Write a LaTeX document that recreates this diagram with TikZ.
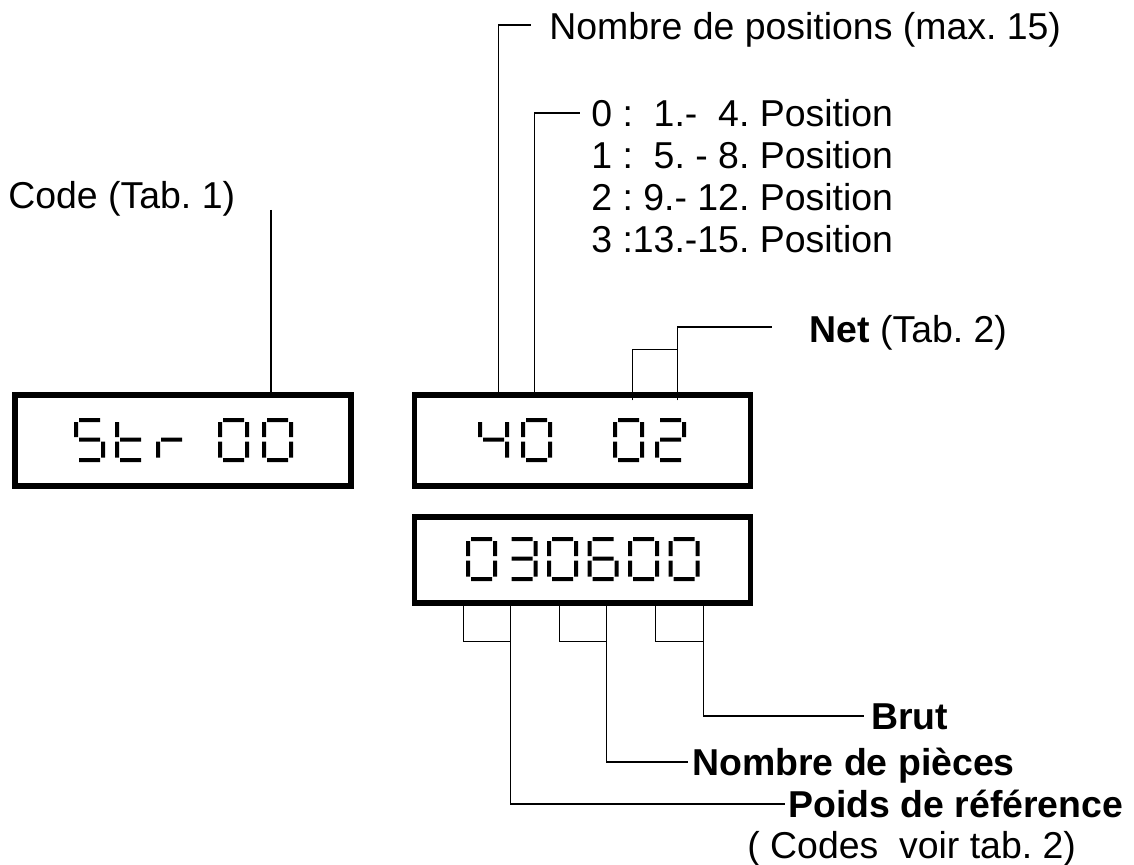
\documentclass[tikz,border=0pt]{standalone}
\usepackage{fontspec}
\setmainfont{Liberation Sans}
\usetikzlibrary{positioning}

\newcommand{\police}{\fontsize{21.3pt}{25pt}\selectfont\frenchspacing}
% segments (coordonnees en px, y vers le bas)
\newcommand{\segA}{(5,0) rectangle (26,4)}
\newcommand{\segB}{(27,4) rectangle (31,19)}
\newcommand{\segC}{(27,23.5) rectangle (31,39.5)}
\newcommand{\segD}{(5,40) rectangle (26,44)}
\newcommand{\segE}{(0,23.5) rectangle (4,39.5)}
\newcommand{\segF}{(0,4) rectangle (4,19)}
\newcommand{\segG}{(5,19.5) rectangle (26,23.5)}
\newcommand{\chzero}{\segA\segB\segC\segD\segE\segF}
\newcommand{\chdeux}{\segA\segB\segG\segE\segD}
\newcommand{\chtrois}{\segA\segB\segG\segC\segD}
\newcommand{\chquatre}{\segF\segG\segB\segC}
\newcommand{\chsix}{\segA\segF\segG\segE\segC\segD}
\newcommand{\chS}{\segA\segF\segG\segC\segD}
\newcommand{\cht}{\segF\segE\segG\segD}
\newcommand{\chr}{\segE\segG}
\newcommand{\chiffre}[3]{\fill[shift={(#1,#2)}] #3;}

\begin{document}
\frenchspacing
\begin{tikzpicture}[
  x=0.02cm, y=-0.02cm,
  afficheur/.style={draw, line width=0.11cm, minimum width=6.72cm,
                    minimum height=1.82cm, inner sep=0pt},
  etiq/.style={anchor=base west, inner sep=0pt, font=\police},
  gras/.style={etiq, font=\police\bfseries},
  trait/.style={line width=0.03cm}
]
\useasboundingbox (0,0) rectangle (1134,865);

\node[afficheur] (aff1) at (183,440.5) {};
\node[afficheur, right=1.16cm of aff1] (aff2) {};
\node[afficheur, below=0.51cm of aff2, minimum height=1.72cm] (aff3) {};

% chiffres des afficheurs
\foreach \x/\g in {74/\chS, 115/\cht, 156/\chr, 218/\chzero, 262/\chzero,
                   478/\chquatre, 521/\chzero, 613/\chzero, 655/\chdeux}
  {\chiffre{\x}{418}{\g}}
\foreach \x/\g in {466/\chzero, 506.5/\chtrois, 547/\chzero,
                   587.5/\chsix, 628/\chzero, 668.5/\chzero}
  {\chiffre{\x}{537}{\g}}

% textes
\node[etiq] (lcode) at (8,209) {Code (Tab. 1)};
\node[etiq] (lnbpos) at (549,40) {Nombre de positions (max. 15)};
\foreach \i/\txt in {0/{0 :~ 1.-~ 4. Position}, 1/{1 :~ 5. - 8. Position},
                     2/{2 : 9.- 12. Position}, 3/{3 :13.-15. Position}}
  \node[etiq] (lpos\i) at (591,{126.5+42*\i}) {\txt};
\node[etiq] (lnet) at (809,342) {\textbf{Net} (Tab. 2)};
\node[gras] (lbrut) at (871,729) {Brut};
\node[gras] (lpieces) at (692,775) {Nombre de pièces};
\node[gras] (lpoids) at (788,817) {Poids de référence};
\node[etiq] (lcodes) at (747,858) {( Codes~ voir tab. 2)};

% reperes
\coordinate (cCode) at (271,210);
\draw[trait] (cCode) -- (cCode |- aff1.north);
\draw[trait] ([shift={(87,0)}]aff2.north west) |- ([shift={(-18,-15)}]lnbpos.base west);
\draw[trait] ([shift={(123,0)}]aff2.north west) |- ([shift={(-11,-13.5)}]lpos0.base west);
\draw[trait] ([shift={(266,8)}]aff2.north west) |- ([shift={(-37,-15)}]lnet.base west);
\draw[trait] ([shift={(221,8)}]aff2.north west) |- ([shift={(266,-43)}]aff2.north west);
\foreach \xg/\xd/\lab/\ecart in {52/99/lpoids/-3, 148/195/lpieces/-4, 244/292/lbrut/-7}{
  \draw[trait] ([shift={(\xg,0)}]aff3.south west) |- ([shift={(\xd,36)}]aff3.south west);
  \draw[trait] ([shift={(\xd,0)}]aff3.south west) |- ([shift={(\ecart,-13)}]\lab.base west);
}
\end{tikzpicture}
\end{document}
